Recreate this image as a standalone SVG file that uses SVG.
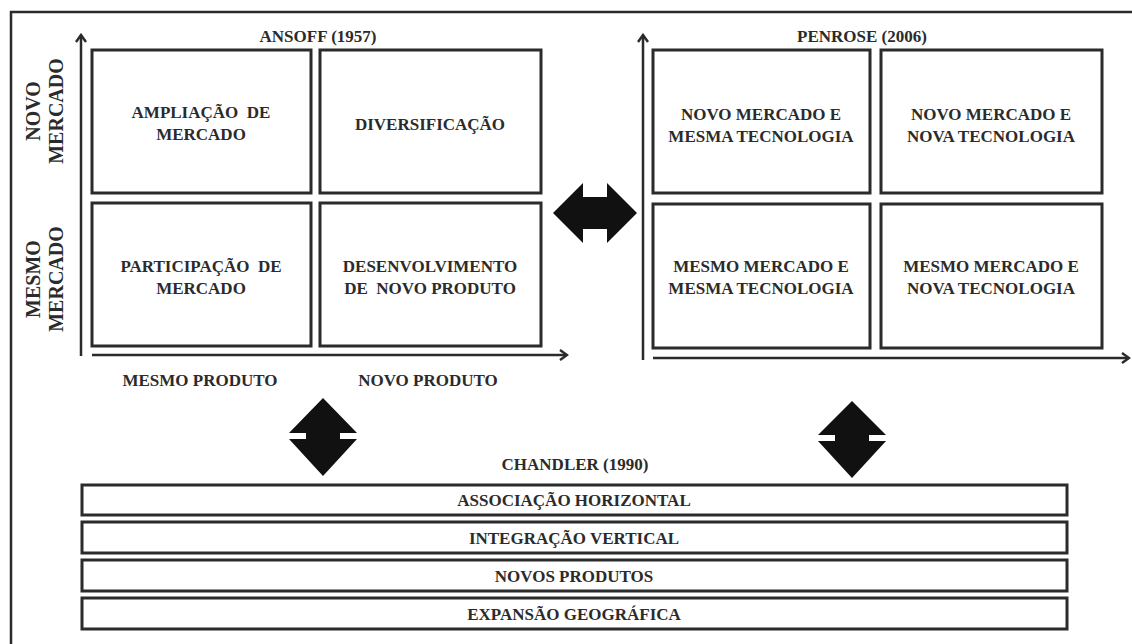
<svg xmlns="http://www.w3.org/2000/svg" width="1132" height="644" viewBox="0 0 1132 644">
<defs>
<style>
.box{fill:#fff;stroke:#2b2b2b;stroke-width:3}
.axis{fill:none;stroke:#2b2b2b;stroke-width:2.5}
.frame{fill:none;stroke:#2b2b2b;stroke-width:2.5}
.t{font-family:"Liberation Serif","Times New Roman",serif;font-weight:bold;font-size:17px;fill:#2b2b2b;text-anchor:middle}
.tv{font-family:"Liberation Serif","Times New Roman",serif;font-weight:bold;font-size:20px;fill:#2b2b2b;text-anchor:middle}
.big{fill:#111}
</style>
<marker id="ah" viewBox="0 0 12 12" refX="10" refY="6" markerWidth="12" markerHeight="12" markerUnits="userSpaceOnUse" orient="auto">
<path d="M3,1 L10,6 L3,11" fill="none" stroke="#2b2b2b" stroke-width="2.5"/>
</marker>
</defs>
<rect width="1132" height="644" fill="#fff"/>
<path class="frame" d="M11,644 L11,12 L1132,12"/>

<g id="ansoff">
<text class="t" x="318" y="42">ANSOFF (1957)</text>
<text class="tv" transform="translate(40,111) rotate(-90)">NOVO</text>
<text class="tv" transform="translate(63,111) rotate(-90)">MERCADO</text>
<text class="tv" transform="translate(40,279) rotate(-90)">MESMO</text>
<text class="tv" transform="translate(63,279) rotate(-90)">MERCADO</text>
<text class="t" x="200" y="386">MESMO PRODUTO</text>
<text class="t" x="428" y="386">NOVO PRODUTO</text>
</g>
<g id="ansoff-q1"><rect class="box" x="92" y="50" width="219" height="143"/>
<text class="t" x="201" y="118" xml:space="preserve">AMPLIAÇÃO  DE</text><text class="t" x="201" y="140">MERCADO</text></g>
<g id="ansoff-q2"><rect class="box" x="320" y="50" width="221" height="143"/>
<text class="t" x="430" y="130">DIVERSIFICAÇÃO</text></g>
<g id="ansoff-q3"><rect class="box" x="92" y="203" width="219" height="143"/>
<text class="t" x="201" y="272" xml:space="preserve">PARTICIPAÇÃO  DE</text><text class="t" x="201" y="294">MERCADO</text></g>
<g id="ansoff-q4"><rect class="box" x="320" y="203" width="221" height="143"/>
<text class="t" x="430" y="272">DESENVOLVIMENTO</text><text class="t" x="430" y="294" xml:space="preserve">DE  NOVO PRODUTO</text></g>

<g id="penrose">
<text class="t" x="862" y="42">PENROSE (2006)</text>
</g>
<g id="penrose-q1"><rect class="box" x="653" y="50" width="217" height="143"/>
<text class="t" x="761" y="120">NOVO MERCADO E</text><text class="t" x="761" y="142">MESMA TECNOLOGIA</text></g>
<g id="penrose-q2"><rect class="box" x="881" y="50" width="221" height="143"/>
<text class="t" x="991" y="120">NOVO MERCADO E</text><text class="t" x="991" y="142">NOVA TECNOLOGIA</text></g>
<g id="penrose-q3"><rect class="box" x="653" y="204" width="217" height="144"/>
<text class="t" x="761" y="272">MESMO MERCADO E</text><text class="t" x="761" y="294">MESMA TECNOLOGIA</text></g>
<g id="penrose-q4"><rect class="box" x="881" y="204" width="221" height="144"/>
<text class="t" x="991" y="272">MESMO MERCADO E</text><text class="t" x="991" y="294">NOVA TECNOLOGIA</text></g>

<g id="chandler">
<text class="t" x="575" y="470">CHANDLER (1990)</text>
</g>
<g id="ch1"><rect class="box" x="82" y="485" width="985" height="30"/><text class="t" x="574" y="506">ASSOCIAÇÃO HORIZONTAL</text></g>
<g id="ch2"><rect class="box" x="82" y="522" width="985" height="31"/><text class="t" x="574" y="544">INTEGRAÇÃO VERTICAL</text></g>
<g id="ch3"><rect class="box" x="82" y="560" width="985" height="31"/><text class="t" x="574" y="582">NOVOS PRODUTOS</text></g>
<g id="ch4"><rect class="box" x="82" y="598" width="985" height="31"/><text class="t" x="574" y="620">EXPANSÃO GEOGRÁFICA</text></g>

<g id="connectors">
<line class="axis" x1="81" y1="356" x2="81" y2="35" marker-end="url(#ah)"/>
<line class="axis" x1="92" y1="355" x2="567" y2="355" marker-end="url(#ah)"/>
<line class="axis" x1="643" y1="360" x2="643" y2="35" marker-end="url(#ah)"/>
<line class="axis" x1="653" y1="358" x2="1129" y2="358" marker-end="url(#ah)"/>
<path class="big" d="M553,213 L583,183 L583,197 L607,197 L607,183 L637,213 L607,243 L607,229 L583,229 L583,243 Z"/>
<path class="big" d="M323,398 L357,433 L340,433 L340,439 L357,439 L323,476 L289,439 L306,439 L306,433 L289,433 Z"/>
<path class="big" d="M852,401 L886,435 L869,435 L869,441 L886,441 L852,478 L818,441 L835,441 L835,435 L818,435 Z"/>
</g>
</svg>
